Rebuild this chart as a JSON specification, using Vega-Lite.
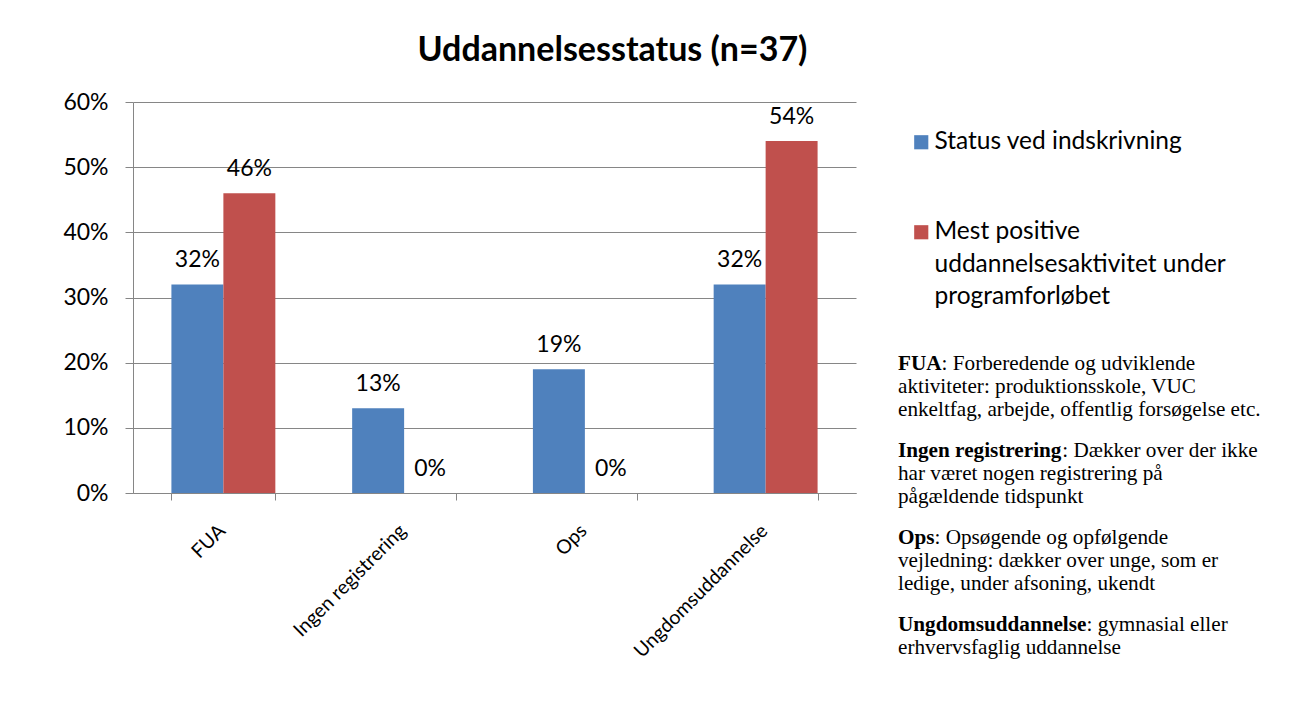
{
  "$schema": "https://vega.github.io/schema/vega-lite/v6.json",
  "autosize": {"type": "pad"},
  "padding": {"left": 62, "top": 34, "right": 5, "bottom": 5},
  "background": "white",
  "title": {"text": "Uddannelsesstatus (n=37)", "font": "Lato", "fontSize": 34, "fontWeight": "bold", "color": "#000000", "anchor": "middle", "offset": 23, "dx": -53},
  "config": {"view": {"stroke": null}, "font": "Lato", "concat": {"spacing": 42}, "style": {"guide-label": {"lineHeight": 32.5}}},
  "hconcat": [
    {
      "width": 723,
      "height": 391,
      "data": {"values": [
        {"cat": "FUA", "series": "Status ved indskrivning", "value": 0.32},
        {"cat": "FUA", "series": "Mest positive uddannelsesaktivitet under programforløbet", "value": 0.46},
        {"cat": "Ingen registrering", "series": "Status ved indskrivning", "value": 0.13},
        {"cat": "Ingen registrering", "series": "Mest positive uddannelsesaktivitet under programforløbet", "value": 0.0},
        {"cat": "Ops", "series": "Status ved indskrivning", "value": 0.19},
        {"cat": "Ops", "series": "Mest positive uddannelsesaktivitet under programforløbet", "value": 0.0},
        {"cat": "Ungdomsuddannelse", "series": "Status ved indskrivning", "value": 0.32},
        {"cat": "Ungdomsuddannelse", "series": "Mest positive uddannelsesaktivitet under programforløbet", "value": 0.54}
      ]},
      "encoding": {
        "x": {"field": "cat", "type": "nominal", "sort": ["FUA", "Ingen registrering", "Ops", "Ungdomsuddannelse"],
          "scale": {"paddingInner": 0.425, "paddingOuter": 0.2125},
          "axis": {"title": null, "labelAngle": -45, "labelAlign": "right", "labelBaseline": "top", "labelFont": "Lato", "labelFontSize": 19.5, "labelColor": "#000000", "labelPadding": 21, "labelOffset": -8, "labelLimit": 400, "tickBand": "extent", "tickSize": 7, "tickColor": "#868686", "domainColor": "#868686", "grid": false}},
        "xOffset": {"field": "series", "type": "nominal", "sort": ["Status ved indskrivning", "Mest positive uddannelsesaktivitet under programforløbet"]},
        "y": {"field": "value", "type": "quantitative", "scale": {"domain": [0, 0.6], "nice": false},
          "axis": {"title": null, "format": ".0%", "values": [0, 0.1, 0.2, 0.3, 0.4, 0.5, 0.6], "grid": true, "gridColor": "#868686", "domainColor": "#868686", "tickColor": "#868686", "tickSize": 8, "labelPadding": 17, "labelFont": "Lato", "labelFontSize": 23, "labelColor": "#000000"}}
      },
      "layer": [
        {
          "mark": {"type": "bar"},
          "encoding": {
            "color": {"field": "series", "type": "nominal", "sort": ["Status ved indskrivning", "Mest positive uddannelsesaktivitet under programforløbet"],
              "scale": {"range": ["#4F81BD", "#C0504D"]},
              "legend": {"orient": "none", "legendX": 776, "legendY": 28, "title": null, "symbolType": "square", "symbolSize": 200, "symbolStrokeWidth": 0, "labelFont": "Lato", "labelFontSize": 24.5, "labelColor": "#000000", "labelLimit": 500, "labelOffset": 1, "rowPadding": 65,
                "labelExpr": "datum.label == 'Status ved indskrivning' ? datum.label : ['Mest positive', 'uddannelsesaktivitet under', 'programforløbet']"}}
          }
        },
        {
          "mark": {"type": "text", "dy": -17, "baseline": "alphabetic", "font": "Lato", "fontSize": 23, "color": "#000000"},
          "encoding": {"text": {"field": "value", "type": "quantitative", "format": ".0%"}}
        }
      ]
    },
    {
      "width": 370,
      "height": 391,
      "data": {"values": [
        {"para": "FUA", "line": 0, "term": "FUA", "text": ": Forberedende og udviklende"},
        {"para": "FUA", "line": 1, "term": "", "text": "aktiviteter: produktionsskole, VUC"},
        {"para": "FUA", "line": 2, "term": "", "text": "enkeltfag, arbejde, offentlig forsøgelse etc."},
        {"para": "Ingen registrering", "line": 0, "term": "Ingen registrering", "text": ": Dækker over der ikke"},
        {"para": "Ingen registrering", "line": 1, "term": "", "text": "har været nogen registrering på"},
        {"para": "Ingen registrering", "line": 2, "term": "", "text": "pågældende tidspunkt"},
        {"para": "Ops", "line": 0, "term": "Ops", "text": ": Opsøgende og opfølgende"},
        {"para": "Ops", "line": 1, "term": "", "text": "vejledning: dækker over unge, som er"},
        {"para": "Ops", "line": 2, "term": "", "text": "ledige, under afsoning, ukendt"},
        {"para": "Ungdomsuddannelse", "line": 0, "term": "Ungdomsuddannelse", "text": ": gymnasial eller"},
        {"para": "Ungdomsuddannelse", "line": 1, "term": "", "text": "erhvervsfaglig uddannelse"}
      ]},
      "encoding": {
        "x": {"datum": 0, "type": "quantitative", "scale": {"domain": [0, 1]}, "axis": null},
        "y": {"field": "para", "type": "nominal", "sort": ["FUA", "Ingen registrering", "Ops", "Ungdomsuddannelse"], "scale": {"type": "band", "range": [256.5, 587], "paddingInner": 0.204, "paddingOuter": 0}, "axis": null},
        "yOffset": {"field": "line", "type": "ordinal", "scale": {"type": "band", "range": [0, 69], "paddingInner": 0, "paddingOuter": 0}}
      },
      "layer": [
        {
          "transform": [{"filter": "datum.line == 0"}],
          "mark": {"type": "text", "align": "left", "baseline": "alphabetic", "font": "Liberation Serif", "fontSize": 21.2, "fontWeight": "bold", "color": "#000000"},
          "encoding": {"text": {"field": "term"}}
        },
        {
          "transform": [{"filter": "datum.line == 0 && datum.para == 'FUA'"}],
          "mark": {"type": "text", "align": "left", "baseline": "alphabetic", "font": "Liberation Serif", "fontSize": 21.2, "color": "#000000", "dx": 43.6},
          "encoding": {"text": {"field": "text"}}
        },
        {
          "transform": [{"filter": "datum.line == 0 && datum.para == 'Ingen registrering'"}],
          "mark": {"type": "text", "align": "left", "baseline": "alphabetic", "font": "Liberation Serif", "fontSize": 21.2, "color": "#000000", "dx": 164.3},
          "encoding": {"text": {"field": "text"}}
        },
        {
          "transform": [{"filter": "datum.line == 0 && datum.para == 'Ops'"}],
          "mark": {"type": "text", "align": "left", "baseline": "alphabetic", "font": "Liberation Serif", "fontSize": 21.2, "color": "#000000", "dx": 36.5},
          "encoding": {"text": {"field": "text"}}
        },
        {
          "transform": [{"filter": "datum.line == 0 && datum.para == 'Ungdomsuddannelse'"}],
          "mark": {"type": "text", "align": "left", "baseline": "alphabetic", "font": "Liberation Serif", "fontSize": 21.2, "color": "#000000", "dx": 188.5},
          "encoding": {"text": {"field": "text"}}
        },
        {
          "transform": [{"filter": "datum.line > 0"}],
          "mark": {"type": "text", "align": "left", "baseline": "alphabetic", "font": "Liberation Serif", "fontSize": 21.2, "color": "#000000"},
          "encoding": {"text": {"field": "text"}}
        }
      ]
    }
  ]
}
